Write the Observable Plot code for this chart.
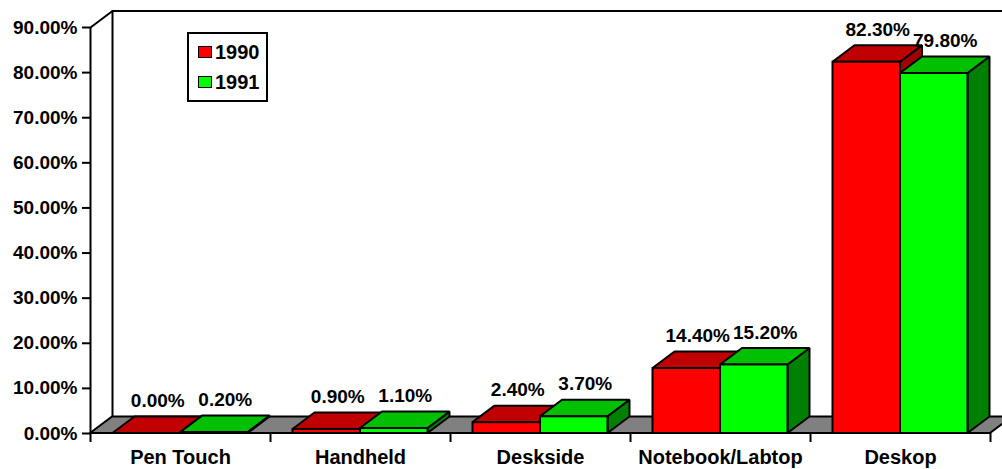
<!DOCTYPE html>
<html>
<head>
<meta charset="utf-8">
<script src="https://cdn.jsdelivr.net/npm/d3@7"></script>
<script src="https://cdn.jsdelivr.net/npm/@observablehq/plot@0.6"></script>
<style>
  body { margin: 0; background: #fff; font-family: "Liberation Sans", Arial, sans-serif; }
  #wrap { position: relative; width: 1002px; height: 469px; overflow: hidden; }
  #legend { position: absolute; left: 187px; top: 32px; width: 81px; height: 70px;
            box-sizing: border-box; border: 2px solid #000; background: #fff; }
  .item { position: absolute; left: 9px; height: 22px; display: flex; align-items: center;
          font-weight: bold; font-size: 20px; line-height: 22px; }
  .sw { width: 12px; height: 10px; border: 1.5px solid #000; margin-right: 3px; }
</style>
</head>
<body>
<div id="wrap"><div id="legend"></div></div>
<script>
// Market share by form factor, 1990 vs 1991
const categories = ["Pen Touch", "Handheld", "Deskside", "Notebook/Labtop", "Deskop"];
const seriesNames = ["1990", "1991"];
const share1990 = [0.0, 0.9, 2.4, 14.4, 82.3];
const share1991 = [0.2, 1.1, 3.7, 15.2, 79.8];
const yTicks = [0, 10, 20, 30, 40, 50, 60, 70, 80, 90];

// Face shading per series: front, top, side
const frontColors = ["#ff0000", "#00ff00"];
const topColors = ["#c00000", "#00c000"];
const sideColors = ["#a00000", "#008000"];

const W = 1002, H = 469;
const mL = 90, mR = 12, mT = 27, mB = 36;
const xDomain = [0, categories.length];
const yDomain = [0, 90];
const pxPerX = (W - mL - mR) / (xDomain[1] - xDomain[0]);
const pxPerY = (H - mT - mB) / (yDomain[1] - yDomain[0]);
// 3D depth of the floor and bars, in data units
const depthX = 22 / pxPerX;
const depthY = 16.5 / pxPerY;

const pct = v => v.toFixed(2) + "%";
const seriesValues = [share1990, share1991];
const barW = 0.375;

const bars = [];
categories.forEach((c, i) => {
  seriesValues.forEach((vals, s) => {
    const x0 = i + 0.125 + s * barW;
    bars.push({id: c + "-" + s, s, x0, x1: x0 + barW, v: vals[i]});
  });
});

const tops = bars.flatMap(b => [
  {id: b.id, s: b.s, y: b.v, xa: b.x0, xb: b.x1},
  {id: b.id, s: b.s, y: b.v + depthY, xa: b.x0 + depthX, xb: b.x1 + depthX}
]);
const sides = bars.flatMap(b => [
  {id: b.id, s: b.s, x: b.x1, ya: 0, yb: b.v},
  {id: b.id, s: b.s, x: b.x1 + depthX, ya: depthY, yb: b.v + depthY}
]);
const floor = [
  {y: 0, xa: xDomain[0], xb: xDomain[1]},
  {y: depthY, xa: xDomain[0] + depthX, xb: xDomain[1] + depthX}
];

const edge = {stroke: "#000", strokeWidth: 2, strokeLinejoin: "miter"};

const barMarks = seriesNames.flatMap((_, s) => [
  Plot.areaY(sides.filter(d => d.s === s), {x: "x", y1: "ya", y2: "yb", z: "id", fill: sideColors[s], ...edge}),
  Plot.areaX(tops.filter(d => d.s === s), {y: "y", x1: "xa", x2: "xb", z: "id", fill: topColors[s], ...edge}),
  Plot.rect(bars.filter(d => d.s === s), {x1: "x0", x2: "x1", y1: 0, y2: "v", fill: frontColors[s], ...edge})
]);

const chart = Plot.plot({
  width: W,
  height: H,
  marginLeft: mL,
  marginRight: mR,
  marginTop: mT,
  marginBottom: mB,
  x: {type: "linear", domain: xDomain},
  y: {type: "linear", domain: yDomain},
  style: {fontFamily: "'Liberation Sans', Arial, sans-serif", fontSize: "19px", fontWeight: "bold", background: "#fff", color: "#000"},
  marks: [
    // back wall outline
    Plot.line([[xDomain[0], yDomain[1]], [depthX, yDomain[1] + depthY], [xDomain[1] + depthX + 1, yDomain[1] + depthY]], {...edge}),
    Plot.line([[depthX, depthY], [depthX, yDomain[1] + depthY]], {...edge}),
    // front value axis line
    Plot.ruleX([0], {y1: yDomain[0], y2: yDomain[1], ...edge}),
    // floor
    Plot.areaX(floor, {y: "y", x1: "xa", x2: "xb", fill: "#808080", ...edge}),
    ...barMarks,
    Plot.axisY({ticks: yTicks, tickSize: 8, tickPadding: 5, tickFormat: pct, strokeWidth: 2, label: null, fontSize: 19}),
    Plot.axisX({ticks: d3.range(categories.length + 1), tickSize: 9, tickFormat: () => "", strokeWidth: 2, label: null}),
    Plot.axisX({ticks: categories.map((_, i) => i + 0.5), tickSize: 0, tickPadding: 16, tickFormat: d => categories[Math.floor(d)], label: null, fontSize: 20}),
    Plot.text(bars, {
      x: b => (b.x0 + b.x1) / 2 + depthX / 2,
      y: b => b.v + depthY + 16 / pxPerY,
      text: b => pct(b.v),
      fontSize: 19,
      fontWeight: "bold",
      fill: "#000"
    })
  ]
});

const wrap = document.getElementById("wrap");
wrap.insertBefore(chart, wrap.firstChild);

// legend
const legend = document.getElementById("legend");
seriesNames.forEach((name, s) => {
  const item = document.createElement("div");
  item.className = "item";
  item.style.top = (7 + s * 30) + "px";
  const sw = document.createElement("span");
  sw.className = "sw";
  sw.style.background = frontColors[s];
  const label = document.createElement("span");
  label.textContent = name;
  item.append(sw, label);
  legend.append(item);
});
</script>
</body>
</html>
